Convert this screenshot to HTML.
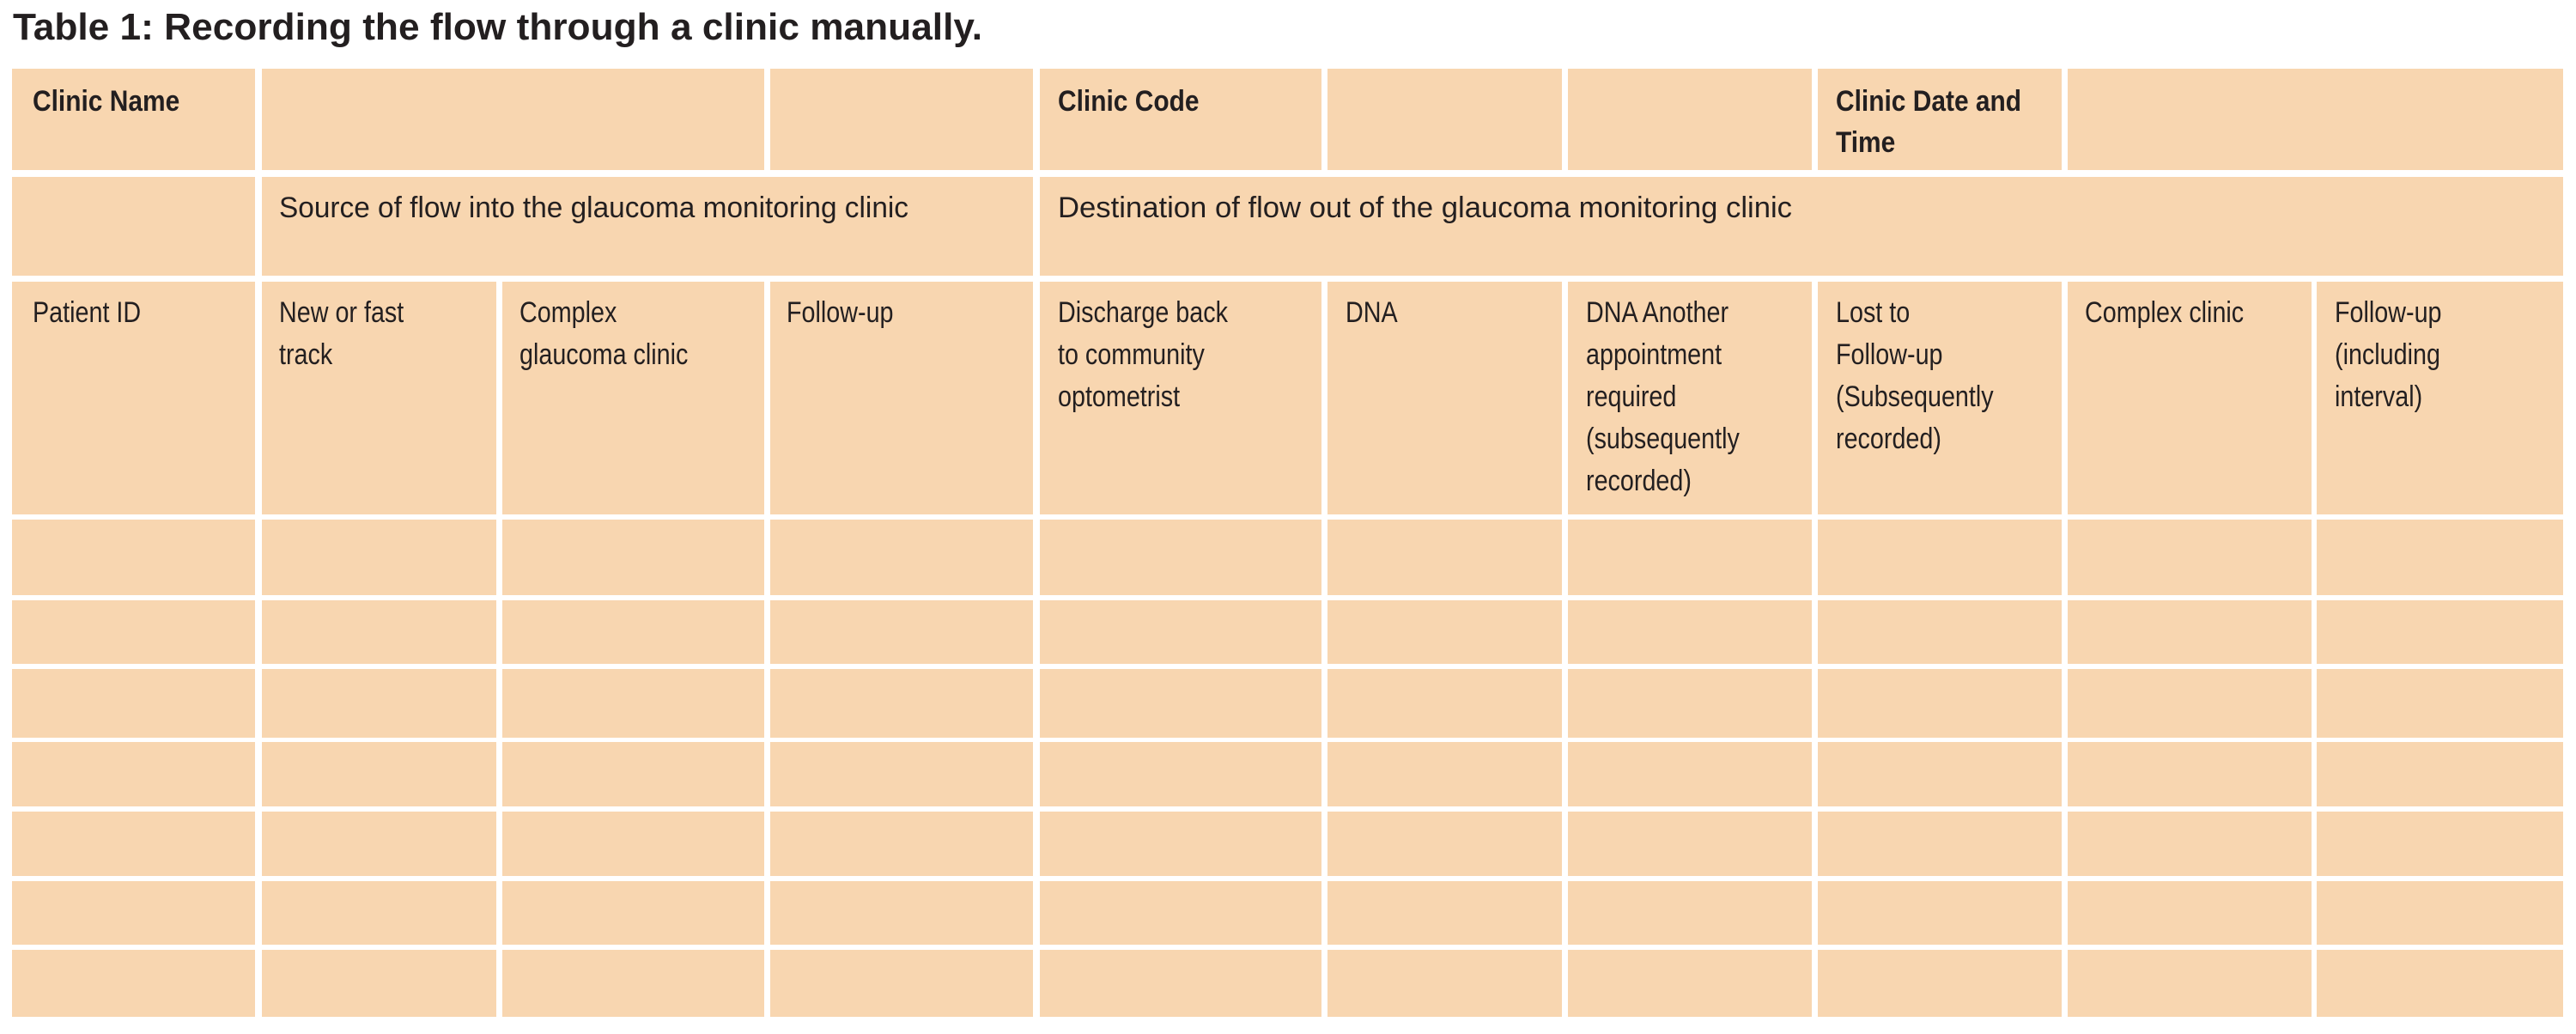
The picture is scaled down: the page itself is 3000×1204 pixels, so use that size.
<!DOCTYPE html>
<html><head><meta charset="utf-8"><style>
html,body{margin:0;padding:0;background:#fff;width:3000px;height:1204px;overflow:hidden}
svg{display:block}
text{font-family:"Liberation Sans",sans-serif;fill:#231f20}
.r{font-size:34px}
.b{font-size:34px;font-weight:bold}
</style></head><body>
<svg width="3000" height="1204" viewBox="0 0 3000 1204" xmlns="http://www.w3.org/2000/svg">
<g fill="#F8D6B0">
<!-- row1 -->
<rect x="14" y="80" width="283" height="118"/>
<rect x="305" y="80" width="585" height="118"/>
<rect x="897" y="80" width="306" height="118"/>
<rect x="1211" y="80" width="328" height="118"/>
<rect x="1546" y="80" width="273" height="118"/>
<rect x="1826" y="80" width="284" height="118"/>
<rect x="2117" y="80" width="284" height="118"/>
<rect x="2408" y="80" width="577" height="118"/>
<!-- row2 -->
<rect x="14" y="206" width="283" height="115"/>
<rect x="305" y="206" width="898" height="115"/>
<rect x="1211" y="206" width="1774" height="115"/>
</g>
<g fill="#F8D6B0" id="cols">
<!-- row3 and data rows generated below -->
</g>
<g fill="#F8D6B0">
<!-- rows: 328-599, 605-693, 699-773, 779-859, 864-939, 945-1020, 1026-1100, 1106-1184 -->
<g id="r3">
<rect x="14" y="328" width="283" height="271"/><rect x="305" y="328" width="273" height="271"/><rect x="585" y="328" width="305" height="271"/><rect x="897" y="328" width="306" height="271"/><rect x="1211" y="328" width="328" height="271"/><rect x="1546" y="328" width="273" height="271"/><rect x="1826" y="328" width="284" height="271"/><rect x="2117" y="328" width="284" height="271"/><rect x="2408" y="328" width="284" height="271"/><rect x="2698" y="328" width="287" height="271"/>
</g>
<g id="d">
<rect x="14" y="605" width="283" height="88"/><rect x="305" y="605" width="273" height="88"/><rect x="585" y="605" width="305" height="88"/><rect x="897" y="605" width="306" height="88"/><rect x="1211" y="605" width="328" height="88"/><rect x="1546" y="605" width="273" height="88"/><rect x="1826" y="605" width="284" height="88"/><rect x="2117" y="605" width="284" height="88"/><rect x="2408" y="605" width="284" height="88"/><rect x="2698" y="605" width="287" height="88"/>
</g>
<g>
<rect x="14" y="699" width="283" height="74"/><rect x="305" y="699" width="273" height="74"/><rect x="585" y="699" width="305" height="74"/><rect x="897" y="699" width="306" height="74"/><rect x="1211" y="699" width="328" height="74"/><rect x="1546" y="699" width="273" height="74"/><rect x="1826" y="699" width="284" height="74"/><rect x="2117" y="699" width="284" height="74"/><rect x="2408" y="699" width="284" height="74"/><rect x="2698" y="699" width="287" height="74"/>
</g>
<g>
<rect x="14" y="779" width="283" height="80"/><rect x="305" y="779" width="273" height="80"/><rect x="585" y="779" width="305" height="80"/><rect x="897" y="779" width="306" height="80"/><rect x="1211" y="779" width="328" height="80"/><rect x="1546" y="779" width="273" height="80"/><rect x="1826" y="779" width="284" height="80"/><rect x="2117" y="779" width="284" height="80"/><rect x="2408" y="779" width="284" height="80"/><rect x="2698" y="779" width="287" height="80"/>
</g>
<g>
<rect x="14" y="864" width="283" height="75"/><rect x="305" y="864" width="273" height="75"/><rect x="585" y="864" width="305" height="75"/><rect x="897" y="864" width="306" height="75"/><rect x="1211" y="864" width="328" height="75"/><rect x="1546" y="864" width="273" height="75"/><rect x="1826" y="864" width="284" height="75"/><rect x="2117" y="864" width="284" height="75"/><rect x="2408" y="864" width="284" height="75"/><rect x="2698" y="864" width="287" height="75"/>
</g>
<g>
<rect x="14" y="945" width="283" height="75"/><rect x="305" y="945" width="273" height="75"/><rect x="585" y="945" width="305" height="75"/><rect x="897" y="945" width="306" height="75"/><rect x="1211" y="945" width="328" height="75"/><rect x="1546" y="945" width="273" height="75"/><rect x="1826" y="945" width="284" height="75"/><rect x="2117" y="945" width="284" height="75"/><rect x="2408" y="945" width="284" height="75"/><rect x="2698" y="945" width="287" height="75"/>
</g>
<g>
<rect x="14" y="1026" width="283" height="74"/><rect x="305" y="1026" width="273" height="74"/><rect x="585" y="1026" width="305" height="74"/><rect x="897" y="1026" width="306" height="74"/><rect x="1211" y="1026" width="328" height="74"/><rect x="1546" y="1026" width="273" height="74"/><rect x="1826" y="1026" width="284" height="74"/><rect x="2117" y="1026" width="284" height="74"/><rect x="2408" y="1026" width="284" height="74"/><rect x="2698" y="1026" width="287" height="74"/>
</g>
<g>
<rect x="14" y="1106" width="283" height="78"/><rect x="305" y="1106" width="273" height="78"/><rect x="585" y="1106" width="305" height="78"/><rect x="897" y="1106" width="306" height="78"/><rect x="1211" y="1106" width="328" height="78"/><rect x="1546" y="1106" width="273" height="78"/><rect x="1826" y="1106" width="284" height="78"/><rect x="2117" y="1106" width="284" height="78"/><rect x="2408" y="1106" width="284" height="78"/><rect x="2698" y="1106" width="287" height="78"/>
</g>
</g>

<!-- Title -->
<text x="15" y="46" style="font-size:44px;font-weight:bold" textLength="1129" lengthAdjust="spacingAndGlyphs">Table 1: Recording the flow through a clinic manually.</text>

<!-- Row1 bold headers -->
<text class="b" transform="translate(38,129) scale(0.88,1)">Clinic Name</text>
<text class="b" transform="translate(1232,129) scale(0.88,1)">Clinic Code</text>
<text class="b" transform="translate(2138,129) scale(0.88,1)">Clinic Date and</text>
<text class="b" transform="translate(2138,177) scale(0.88,1)">Time</text>

<!-- Row2 -->
<text class="r" x="325" y="253" textLength="733" lengthAdjust="spacingAndGlyphs">Source of flow into the glaucoma monitoring clinic</text>
<text class="r" x="1232" y="253" textLength="855" lengthAdjust="spacingAndGlyphs">Destination of flow out of the glaucoma monitoring clinic</text>

<!-- Row3 -->
<g class="r">
<text class="r" transform="translate(38,375) scale(0.845,1)">Patient ID</text>
<text class="r" transform="translate(325,375) scale(0.845,1)">New or fast</text>
<text class="r" transform="translate(325,424) scale(0.845,1)">track</text>
<text class="r" transform="translate(605,375) scale(0.845,1)">Complex</text>
<text class="r" transform="translate(605,424) scale(0.845,1)">glaucoma clinic</text>
<text class="r" transform="translate(916,375) scale(0.845,1)">Follow-up</text>
<text class="r" transform="translate(1232,375) scale(0.845,1)">Discharge back</text>
<text class="r" transform="translate(1232,424) scale(0.845,1)">to community</text>
<text class="r" transform="translate(1232,473) scale(0.845,1)">optometrist</text>
<text class="r" transform="translate(1567,375) scale(0.845,1)">DNA</text>
<text class="r" transform="translate(1847,375) scale(0.845,1)">DNA Another</text>
<text class="r" transform="translate(1847,424) scale(0.845,1)">appointment</text>
<text class="r" transform="translate(1847,473) scale(0.845,1)">required</text>
<text class="r" transform="translate(1847,522) scale(0.845,1)">(subsequently</text>
<text class="r" transform="translate(1847,571) scale(0.845,1)">recorded)</text>
<text class="r" transform="translate(2138,375) scale(0.845,1)">Lost to</text>
<text class="r" transform="translate(2138,424) scale(0.845,1)">Follow-up</text>
<text class="r" transform="translate(2138,473) scale(0.845,1)">(Subsequently</text>
<text class="r" transform="translate(2138,522) scale(0.845,1)">recorded)</text>
<text class="r" transform="translate(2428,375) scale(0.845,1)">Complex clinic</text>
<text class="r" transform="translate(2719,375) scale(0.845,1)">Follow-up</text>
<text class="r" transform="translate(2719,424) scale(0.845,1)">(including</text>
<text class="r" transform="translate(2719,473) scale(0.845,1)">interval)</text>
</g>
</svg>
</body></html>
